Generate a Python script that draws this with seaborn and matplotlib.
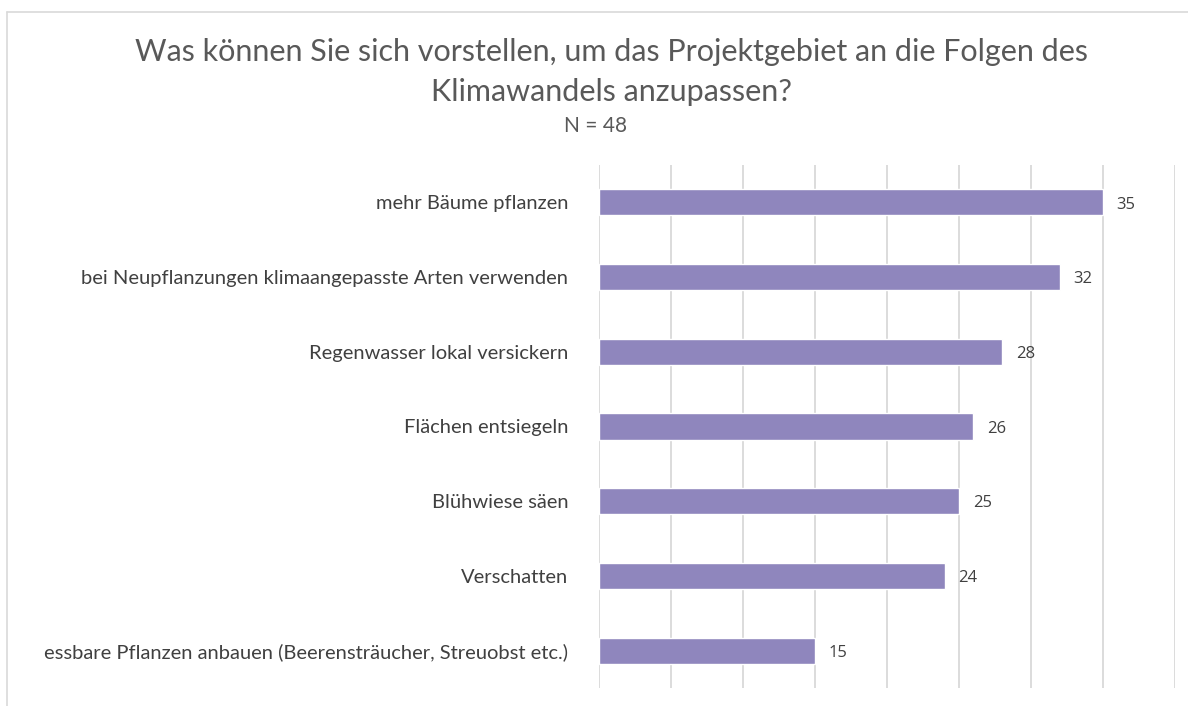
import pandas as pd
import seaborn as sns
import matplotlib.pyplot as plt
from matplotlib.lines import Line2D

# data
categories = [
    "mehr Bäume pflanzen",
    "bei Neupflanzungen klimaangepasste Arten verwenden",
    "Regenwasser lokal versickern",
    "Flächen entsiegeln",
    "Blühwiese säen",
    "Verschatten",
    "essbare Pflanzen anbauen (Beerensträucher, Streuobst etc.)",
]
counts = [35, 32, 28, 26, 25, 24, 15]

title = "Was können Sie sich vorstellen, um das Projektgebiet an die Folgen des\nKlimawandels anzupassen?"
subtitle = "N = 48"

df = pd.DataFrame({"answer": categories, "count": counts})

sns.set_theme(style="white")
plt.rcParams['font.family'] = ['Lato', 'DejaVu Sans']

fig = plt.figure(figsize=(11.88, 7.06), dpi=100)
ax = fig.add_axes([599 / 1188, 1 - 688 / 706, 576 / 1188, 523 / 706])

sns.barplot(data=df, x="count", y="answer", color="#8F86BD", saturation=1,
            width=0.35, ax=ax, zorder=3)

ax.set_xlim(0, 40)
ax.set_xticks(range(0, 45, 5))
ax.set_xticklabels([])
ax.xaxis.grid(True, color="#D9D9D9", linewidth=1.3, zorder=0)
ax.tick_params(axis="x", length=0)
ax.tick_params(axis="y", length=0, pad=22, labelsize=14.5, labelcolor="#404040")
ax.set_xlabel("")
ax.set_ylabel("")
for s in ax.spines.values():
    s.set_visible(False)

for i, v in enumerate(counts):
    ax.text(v + 0.95, i + 0.03, str(v), va="center", ha="left", fontsize=12,
            color="#404040", family=["Open Sans", "DejaVu Sans"])

fig.text(0.515, 1 - 72 / 706, title, ha="center", va="center", fontsize=22,
         color="#595959", linespacing=1.5)
fig.text(0.501, 1 - 126 / 706, subtitle, ha="center", va="center", fontsize=15,
         color="#595959")

# light frame, cropped on the right and bottom like the original export
fig.add_artist(Line2D([7 / 1188, 7 / 1188], [0, 1 - 12 / 706], color="#D9D9D9", lw=1.2))
fig.add_artist(Line2D([7 / 1188, 1], [1 - 12 / 706, 1 - 12 / 706], color="#D9D9D9", lw=1.2))

plt.savefig("out.png", dpi=100)
